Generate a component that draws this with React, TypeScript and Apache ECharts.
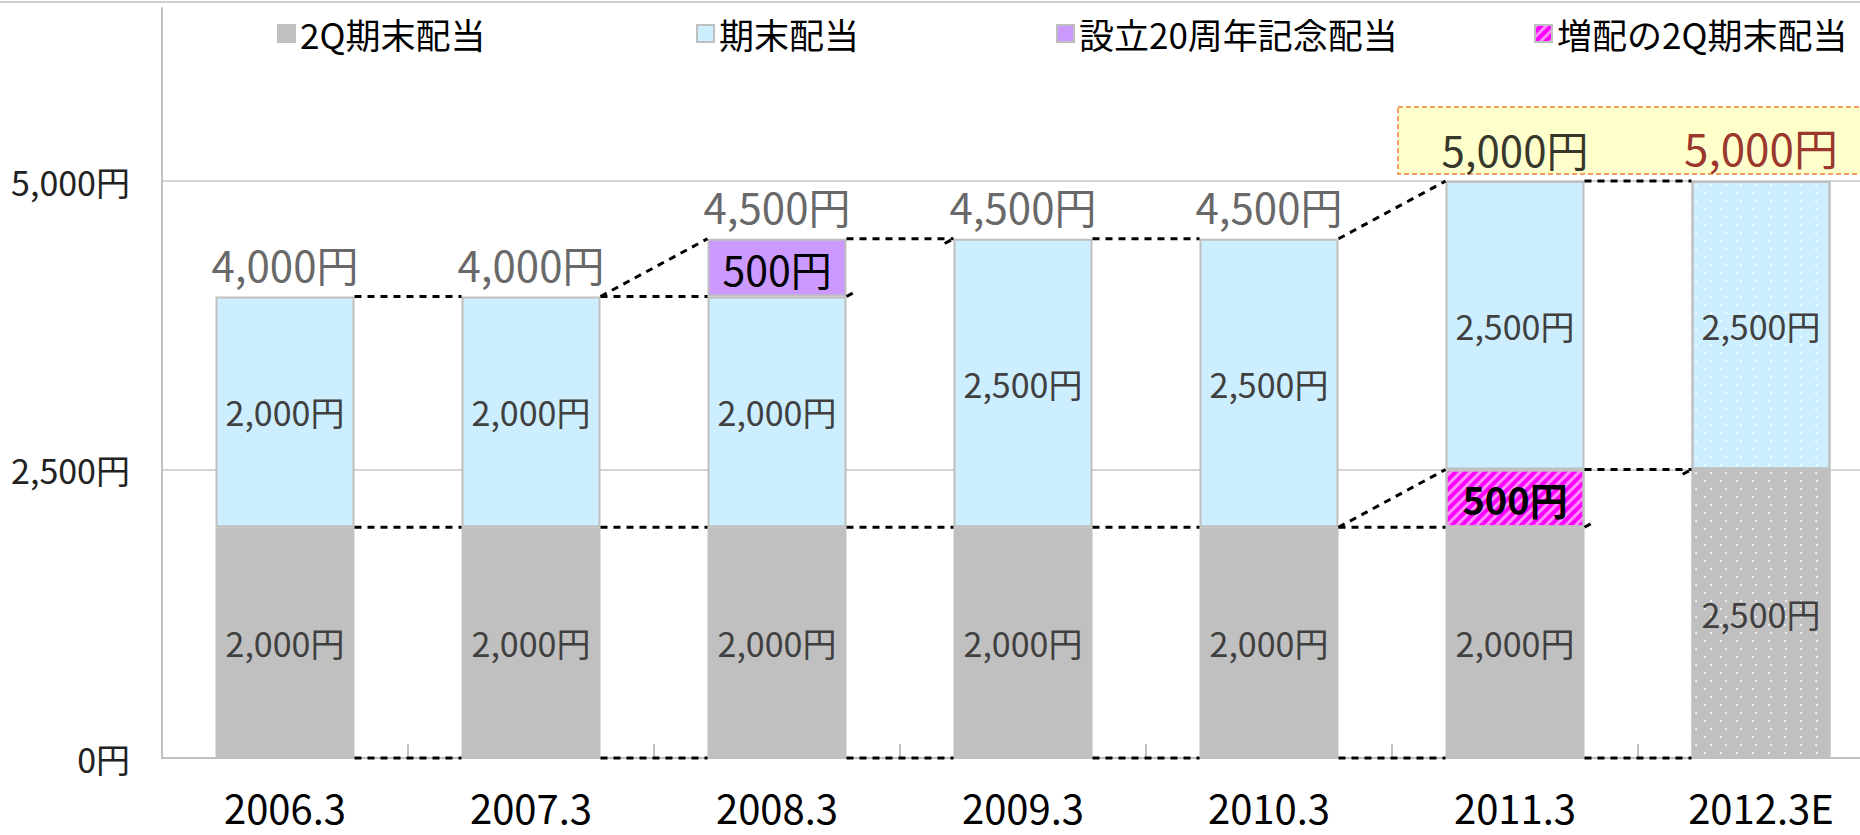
import React, { useEffect, useRef } from 'react';
import * as echarts from 'echarts';

// ---------- data ----------
const categories = ['2006.3', '2007.3', '2008.3', '2009.3', '2010.3', '2011.3', '2012.3E'];
const q2Dividend = [2000, 2000, 2000, 2000, 2000, 2000, 2500];
const increasedQ2 = [null, null, null, null, null, 500, null];
const yearEndDividend = [2000, 2000, 2000, 2500, 2500, 2500, 2500];
const anniversaryDividend = [null, null, 500, null, null, null, null];
const forecastIndex = 6;
const yMin = 0;
const yMax = 6500;
const yInterval = 2500;
// connectors (series lines) that are only shown as short stubs: [fromIndex, fromValue, toValue]
const maskedConnectors = [
  [2, 4000, 4500],
  [5, 2000, 2500],
];

const NAME_Q2 = '2Q期末配当';
const NAME_END = '期末配当';
const NAME_ANNIV = '設立20周年記念配当';
const NAME_INC = '増配の2Q期末配当';

// ---------- style ----------
const FONT = "'Noto Sans CJK JP', 'Noto Sans', sans-serif";
const BAR_RATIO = 0.565;
const GRAY = '#c0c0c0';
const BLUE = '#cceeff';
const PURPLE = '#cc99ff';
const MAGENTA = '#ff00ff';
const BORDER = '#bfbfbf';

const fmt = (v: number) => v.toLocaleString('en-US') + '円';

const dotsDecal = {
  symbol: 'circle',
  symbolSize: 1,
  dashArrayX: [[2, 13], [0, 7.5, 2, 5.5]],
  dashArrayY: [2, 5.5],
  color: 'rgba(255,255,255,0.9)',
};
const stripeDecal = {
  symbol: 'rect',
  symbolSize: 1,
  dashArrayX: [1, 0],
  dashArrayY: [3, 4],
  rotation: -Math.PI / 4,
  color: 'rgba(255,150,255,0.95)',
};

function withForecast(arr: (number | null)[]) {
  return arr.map((v, i) =>
    i === forecastIndex && v != null ? { value: v, itemStyle: { decal: dotsDecal } } : v
  );
}

export default function App() {
  const ref = useRef<HTMLDivElement>(null);

  useEffect(() => {
    if (!ref.current) return;
    const chart = echarts.init(ref.current, undefined, { renderer: 'svg' });

    const stackOrder = [q2Dividend, increasedQ2, yearEndDividend, anniversaryDividend];
    const cumulative: number[][] = [];
    let running = categories.map(() => 0);
    cumulative.push(running.slice());
    stackOrder.forEach((arr) => {
      running = running.map((r, i) => r + (arr[i] ?? 0));
      cumulative.push(running.slice());
    });
    const totals = running.slice();

    const seen = new Set<string>();
    const connectors: number[][] = [];
    for (let i = 0; i < categories.length - 1; i++) {
      cumulative.forEach((lvl) => {
        const key = `${i}-${lvl[i]}-${lvl[i + 1]}`;
        if (seen.has(key)) return;
        seen.add(key);
        const masked = maskedConnectors.some(
          (m) => m[0] === i && m[1] === lvl[i] && m[2] === lvl[i + 1]
        );
        connectors.push([i, lvl[i], lvl[i + 1], masked ? 1 : 0]);
      });
    }

    const innerLabel = {
      show: true,
      position: 'inside',
      fontFamily: FONT,
      fontSize: 34,
      color: '#404040',
      formatter: (p: any) => fmt(p.value?.value ?? p.value),
    };

    const totalColors = categories.map((_, i) =>
      i === forecastIndex ? '#800000' : i === forecastIndex - 1 ? '#000000' : '#404040'
    );

    const legendLefts = [272, 691, 1051, 1529];
    const legendNames = [NAME_Q2, NAME_END, NAME_ANNIV, NAME_INC];

    chart.setOption({
      animation: false,
      textStyle: { fontFamily: FONT },
      grid: {
        left: 162,
        top: 8,
        width: 1722,
        height: 750,
        containLabel: false,
        outerBoundsMode: 'none',
      },
      legend: legendNames.map((n, k) => ({
        data: [n],
        left: legendLefts[k],
        top: 11,
        icon: 'rect',
        itemWidth: 17,
        itemHeight: 17,
        selectedMode: false,
        textStyle: { fontFamily: FONT, fontSize: 35, color: '#000' },
      })),
      xAxis: {
        type: 'category',
        data: categories,
        axisLine: { show: true, lineStyle: { color: GRAY, width: 2 } },
        axisTick: { show: true, inside: true, length: 14, interval: 0, lineStyle: { color: GRAY, width: 2 } },
        axisLabel: {
          fontFamily: FONT,
          fontSize: 40,
          lineHeight: 40,
          color: '#000',
          margin: 29,
          interval: 0,
        },
      },
      yAxis: {
        type: 'value',
        min: yMin,
        max: yMax,
        interval: yInterval,
        axisLine: { show: true, lineStyle: { color: GRAY, width: 2 } },
        axisTick: { show: false },
        splitLine: {
          show: true,
          showMaxLine: false,
          lineStyle: { color: ['#d4d4d4', '#d4d4d4', '#d4d4d4', 'rgba(0,0,0,0)'], width: 2 },
        },
        axisLabel: {
          showMaxLabel: false,
          fontFamily: FONT,
          fontSize: 34,
          color: '#222',
          margin: 32,
          formatter: (v: number) => (v % yInterval === 0 ? fmt(v) : ''),
        },
      },
      graphic: [
        {
          type: 'line',
          shape: { x1: 0, y1: 2, x2: 1860, y2: 2 },
          style: { stroke: '#cfcfcf', lineWidth: 2 },
          z: 0,
        },
        {
          type: 'rect',
          shape: { x: 1398, y: 107, width: 480, height: 67 },
          style: { fill: '#ffffcc', stroke: '#f08030', lineWidth: 1.5, lineDash: [5, 3] },
          z: 0,
        },
      ],
      series: [
        {
          name: NAME_Q2,
          type: 'bar',
          stack: 'div',
          barWidth: BAR_RATIO * 100 + '%',
          data: withForecast(q2Dividend),
          itemStyle: { color: GRAY, borderColor: GRAY, borderWidth: 1 },
          label: innerLabel,
          z: 2,
        },
        {
          name: NAME_INC,
          type: 'bar',
          stack: 'div',
          barWidth: BAR_RATIO * 100 + '%',
          data: increasedQ2,
          itemStyle: { color: MAGENTA, borderColor: BORDER, borderWidth: 2, decal: stripeDecal },
          label: { ...innerLabel, color: '#000', fontWeight: 'bold', fontSize: 38 },
          z: 2,
        },
        {
          name: NAME_END,
          type: 'bar',
          stack: 'div',
          barWidth: BAR_RATIO * 100 + '%',
          data: withForecast(yearEndDividend),
          itemStyle: { color: BLUE, borderColor: BORDER, borderWidth: 2 },
          label: innerLabel,
          z: 2,
        },
        {
          name: NAME_ANNIV,
          type: 'bar',
          stack: 'div',
          barWidth: BAR_RATIO * 100 + '%',
          data: anniversaryDividend,
          itemStyle: { color: PURPLE, borderColor: BORDER, borderWidth: 2 },
          label: { ...innerLabel, color: '#000', fontSize: 41 },
          z: 2,
        },
        {
          name: 'totals',
          type: 'scatter',
          symbolSize: 0,
          data: totals.map((t, i) => ({
            value: [i, t],
            label: { color: totalColors[i], fontSize: i === forecastIndex ? 44 : 42 },
          })),
          label: {
            show: true,
            position: 'top',
            distance: 12,
            fontFamily: FONT,
            fontSize: 42,
            color: '#404040',
            formatter: (p: any) => fmt(p.value[1]),
          },
          z: 5,
        },
        {
          name: 'seriesLines',
          type: 'custom',
          encode: { x: 0, y: 1 },
          data: connectors,
          z: 3,
          silent: true,
          renderItem: (params: any, api: any) => {
            const i = api.value(0);
            const a = api.value(1);
            const b = api.value(2);
            const masked = api.value(3);
            const p0 = api.coord([i, a]);
            const p1 = api.coord([i + 1, b]);
            const half = (api.size([1, 0])[0] * BAR_RATIO) / 2;
            const x0 = p0[0] + half;
            const y0 = p0[1];
            const x1 = p1[0] - half;
            const y1 = p1[1];
            const style = { stroke: '#000', lineWidth: 3, lineDash: [7, 6], fill: null };
            if (!masked) {
              return { type: 'line', shape: { x1: x0, y1: y0, x2: x1, y2: y1 }, style };
            }
            const dx = x1 - x0;
            const dy = y1 - y0;
            const f = 10 / Math.hypot(dx, dy);
            return {
              type: 'group',
              children: [
                { type: 'line', shape: { x1: x0, y1: y0, x2: x0 + dx * f, y2: y0 + dy * f }, style },
                { type: 'line', shape: { x1: x1 - dx * f, y1: y1 - dy * f, x2: x1, y2: y1 }, style },
              ],
            };
          },
        },
      ],
    });

    return () => chart.dispose();
  }, []);

  return (
    <div
      ref={ref}
      style={{ position: 'fixed', left: 0, top: 0, width: 1860, height: 835, background: '#fff' }}
    />
  );
}
